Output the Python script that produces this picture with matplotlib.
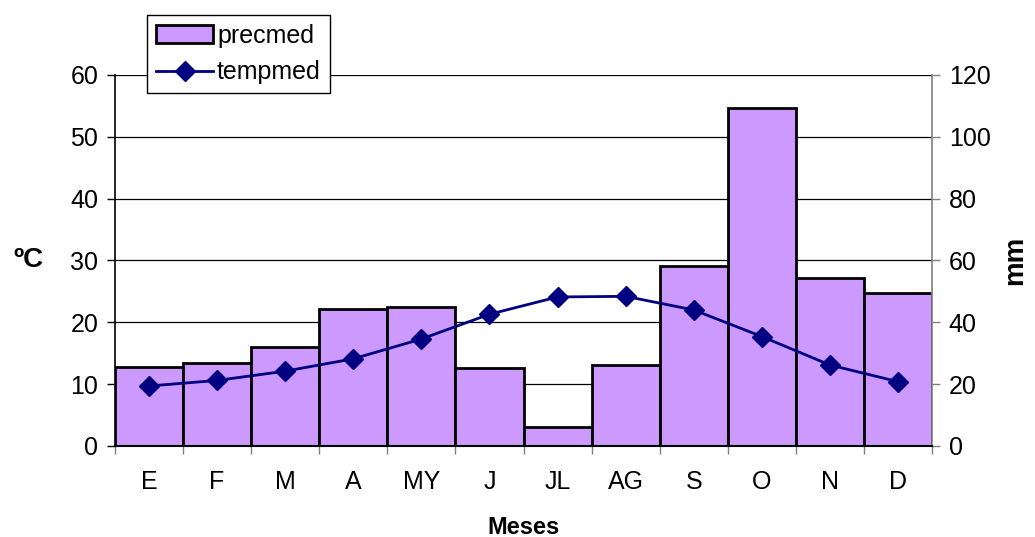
import matplotlib as mpl
mpl.use('Agg')
import matplotlib.pyplot as plt
import numpy as np

meses = ['E', 'F', 'M', 'A', 'MY', 'J', 'JL', 'AG', 'S', 'O', 'N', 'D']
precmed = [25.7, 26.8, 32.0, 44.2, 45.0, 25.2, 6.0, 26.2, 58.3, 109.2, 54.2, 49.6]
tempmed = [9.7, 10.6, 12.1, 14.1, 17.3, 21.3, 24.1, 24.2, 22.0, 17.7, 13.1, 10.4]

plt.rcParams['font.family'] = ['Liberation Sans', 'DejaVu Sans']

cbar = '#CC99FF'
cline = '#000080'

fig = plt.figure(figsize=(10.35, 5.37), dpi=100)
ax = fig.add_axes([0.1111, 0.1695, 0.7894, 0.6909])
axp = ax.twinx()

x = np.arange(len(meses))

# precipitation bars on the right scale, drawn behind the temperature line
axp.bar(x, precmed, width=1.0, color=cbar, edgecolor='black', linewidth=2, label='precmed', zorder=2)
axp.set_ylim(0, 120)
axp.set_yticks(range(0, 121, 20))
axp.set_ylabel('mm', fontsize=20, fontweight='bold', labelpad=8)

# temperature on the left scale
ax.set_zorder(axp.get_zorder() + 1)
ax.patch.set_visible(False)
lines = ax.plot(x, tempmed, color=cline, linewidth=2, marker='D', markersize=10.5, label='tempmed')
ax.set_ylim(0, 60)
ax.set_yticks(range(0, 61, 10))
ax.set_xlim(-0.5, len(meses) - 0.5)
ax.set_ylabel('ºC', fontsize=20, fontweight='bold', rotation=0, labelpad=30, va='center')
ax.set_xlabel('Meses', fontsize=17, fontweight='bold', labelpad=16)

# month labels centred in each bar, ticks on the bar edges
ax.set_xticks(x)
ax.set_xticklabels(meses)
ax.tick_params(axis='x', length=0, pad=17)
ax.set_xticks(np.arange(-0.5, len(meses), 1.0), minor=True)
ax.tick_params(axis='x', which='minor', length=6, color='#808080', width=1)

# gridlines belong behind the bars
for yv in range(10, 61, 10):
    axp.axhline(yv * 2, color='black', linewidth=0.9, zorder=0)

for a in (ax, axp):
    a.spines['top'].set_visible(False)
    a.tick_params(axis='y', labelsize=18, length=6, width=1, pad=6)
ax.tick_params(axis='x', labelsize=18)
ax.spines['left'].set_linewidth(1.2)
ax.spines['bottom'].set_linewidth(1.5)
ax.spines['right'].set_visible(False)
axp.spines['left'].set_visible(False)
axp.spines['bottom'].set_visible(False)
axp.spines['right'].set_color('#808080')
axp.spines['right'].set_linewidth(1.2)
axp.tick_params(axis='y', color='#808080')

handles = axp.get_legend_handles_labels()[0] + lines
fig.legend(handles, ['precmed', 'tempmed'], loc='upper left',
           bbox_to_anchor=(147 / 1035, 1 - 15 / 537), fontsize=18,
           frameon=True, fancybox=False, edgecolor='black', framealpha=1,
           borderpad=0.35, handlelength=2.3, handletextpad=0.15, labelspacing=0.5,
           borderaxespad=0)

fig.savefig('out.png', dpi=100)
